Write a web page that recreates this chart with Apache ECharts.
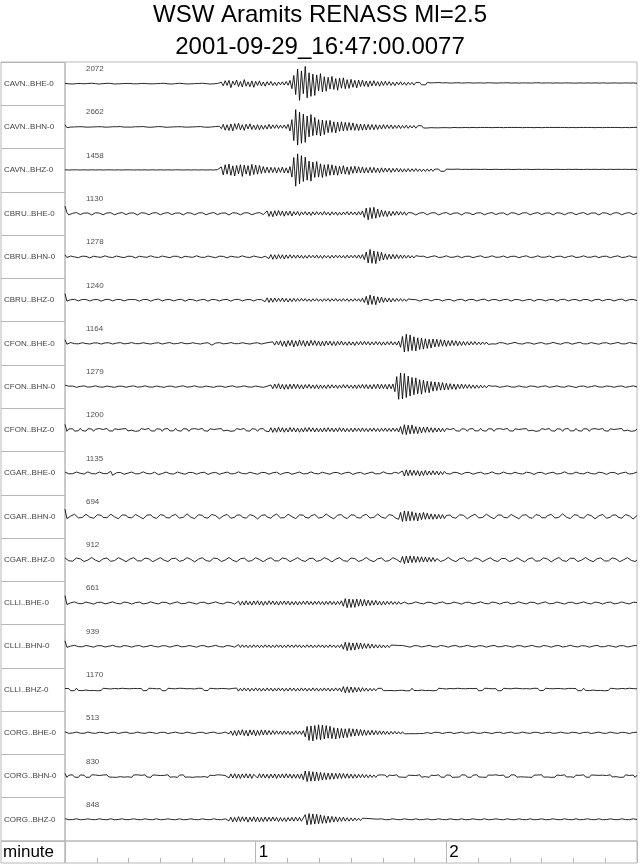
<!DOCTYPE html>
<html>
<head>
<meta charset="utf-8">
<script src="https://cdn.jsdelivr.net/npm/echarts@6/dist/echarts.min.js"></script>
<style>
html,body{margin:0;padding:0;background:#fff;}
#chart{width:640px;height:866px;}
</style>
</head>
<body>
<div id="chart"></div>
<script>
const TITLE = 'WSW Aramits RENASS Ml=2.5';
const SUBTITLE = '2001-09-29_16:47:00.0077';
const AXIS_NAME = 'minute';
const channels = ['CAVN..BHE-0','CAVN..BHN-0','CAVN..BHZ-0','CBRU..BHE-0','CBRU..BHN-0','CBRU..BHZ-0',
  'CFON..BHE-0','CFON..BHN-0','CFON..BHZ-0','CGAR..BHE-0','CGAR..BHN-0','CGAR..BHZ-0',
  'CLLI..BHE-0','CLLI..BHN-0','CLLI..BHZ-0','CORG..BHE-0','CORG..BHN-0','CORG..BHZ-0'];
const peakCounts = [2072,2662,1458,1130,1278,1240,1164,1279,1200,1135,694,912,661,939,1170,513,830,848];
const timeTicks = [1, 2];
const DT = 0.01; // minutes between samples
const T_MAX = 3;

const cavnBHE = [
2,0,-1,1,-2,1,0,-1,1,2,-1,0,1,-1,2,-1,0,1,-2,1,
0,-1,2,-1,1,0,-2,1,-1,2,0,-1,1,-2,1,0,-1,2,-1,0,
1,-2,1,0,-1,2,-1,1,0,-2,1,-1,2,0,-1,1,-2,1,0,-1,
2,-1,0,1,-2,1,-1,2,0,-1,1,-1,2,-1,0,1,-2,1,-1,0,
1,-3,8,-12,16,-10,18,-22,14,-8,20,-16,12,-18,22,-14,10,-17,15,-20,
13,-10,15,-12,9,-14,11,-8,12,-10,7,-11,9,-6,10,-8,12,-9,18,-28,
45,-60,80,-92,70,-55,95,-78,60,-70,52,-65,48,-40,55,-45,38,-42,35,-30,
40,-32,28,-36,30,-25,32,-28,22,-26,24,-20,18,-23,20,-16,19,-15,14,-17,
15,-13,16,-12,11,-14,12,-10,13,-9,11,-10,8,-11,9,-7,10,-8,7,-9,
8,-6,7,-8,6,-5,7,-6,5,-7,6,-5,4,-6,5,-4,6,-5,4,-5,
5,-4,3,-5,4,-3,5,-4,3,-4,4,-3,5,-4,3,-5,4,-3,4,-4,
3,-4,5,-3,4,-4,3,-5,4,-3,4,-3,5,-4,3,-4,4,-3,3,-4,
4,-3,4,-5,3,-4,4,-3,5,-4,3,-4,4,-3,4,-4,3,-3,4,-3,
3,-4,4,-3,4,-3,3,-4,3,-3,4,-3,3,-4,4,-3,3,-4,4,-3,
3,-3,4,-3,3,-4,3,-3,4,-3,3,-4,3,-3,4,-3,3,-3,4,-3,
2];
const cavnBHN = [
12,-4,1,-1,2,0,-1,1,-2,1,0,-1,2,-1,1,0,-2,1,-1,1,
0,-1,2,-1,0,1,-2,1,-1,2,0,-1,1,-1,2,-1,0,1,-2,1,
-1,2,0,-1,1,-2,1,0,-1,2,-1,1,0,-2,1,-1,2,0,-1,1,
-2,1,0,-1,2,-1,1,0,-2,1,-1,2,0,-1,1,-2,1,0,-1,2,
-1,4,-10,14,-18,12,-20,16,-22,18,-13,20,-16,12,-19,15,-11,17,-14,10,
-15,12,-16,10,-13,9,-12,14,-10,11,-8,12,-9,10,-7,11,-9,14,-22,40,
-75,95,-100,82,-90,70,-85,60,-55,68,-48,52,-45,40,-50,38,-42,35,-32,36,
-30,28,-33,26,-24,28,-22,25,-20,24,-18,22,-19,17,-20,16,-18,15,-17,14,
-15,13,-16,12,-14,11,-12,13,-10,12,-9,11,-10,9,-8,10,-9,8,-7,9,
-8,7,-6,8,-7,6,-5,7,-6,5,-6,5,-4,6,-5,4,-5,4,-4,5,
-4,3,-5,4,-3,4,-4,3,-4,5,-3,4,-4,3,-3,4,-4,3,-3,4,
-3,4,-3,3,-4,3,-3,4,-3,3,-4,3,-3,4,-3,3,-3,4,-3,3,
-4,3,-3,4,-3,3,-4,3,-3,3,-4,3,-3,4,-3,3,-3,4,-3,3,
-3,4,-3,3,-4,3,-3,3,-4,3,-3,4,-3,3,-3,4,-3,3,-4,3,
-3,3,-4,3,-3,4,-3,3,-3,4,-3,3,-4,3,-3,3,-4,3,-3,3,
-2];
const cavnBHZ = [
2,-2,1,-2,2,-1,2,-2,1,-1,2,-2,1,-2,2,-1,1,-2,2,-1,
1,-2,2,-1,2,-2,1,-1,2,-2,1,-2,2,-1,2,-1,1,-2,2,-2,
1,-1,2,-2,1,-2,2,-1,1,-2,2,-2,1,-1,2,-2,1,-2,2,-1,
2,-2,1,-1,2,-2,1,-2,2,-1,1,-2,2,-2,1,-1,2,-2,1,-2,
3,-6,18,-26,30,-22,34,-28,24,-32,26,-20,30,-34,28,-22,25,-30,32,-24,
28,-22,26,-18,20,-15,17,-14,16,-13,15,-16,14,-12,17,-15,13,-16,20,-38,
70,-88,90,-75,80,-62,72,-55,50,-60,45,-40,48,-38,35,-40,30,-34,32,-28,
30,-26,24,-28,22,-20,25,-22,18,-24,20,-17,22,-16,19,-15,18,-16,14,-15,
16,-14,15,-13,12,-14,13,-11,12,-10,11,-12,10,-9,11,-10,9,-10,8,-9,
9,-8,8,-7,9,-7,7,-8,6,-7,7,-6,7,-6,6,-5,6,-6,5,-6,
6,-5,5,-6,5,-4,6,-5,4,-5,5,-5,4,-5,5,-4,5,-5,4,-5,
5,-4,4,-5,4,-4,5,-4,4,-5,4,-4,5,-4,4,-5,4,-4,5,-4,
4,-4,5,-4,4,-5,4,-4,5,-4,4,-4,5,-4,4,-5,4,-4,5,-4,
4,-5,4,-4,5,-4,4,-4,5,-4,4,-5,4,-4,5,-4,4,-4,5,-4,
4,-4,5,-4,4,-4,5,-4,4,-4,5,-4,4,-4,5,-4,4,-4,5,-4,
3];
const cbruBHE = [
40,5,-8,-6,1,6,5,-2,-6,-4,2,7,3,-4,-8,-3,4,6,2,-5,
-7,-3,3,7,4,-3,-7,-5,1,6,5,-2,-6,-4,2,7,3,-4,-8,-3,
4,6,2,-5,-7,-3,3,7,4,-3,-7,-5,1,6,5,-2,-6,-4,2,7,
3,-4,-8,-3,4,6,2,-5,-7,-3,3,7,4,-3,-7,-5,1,6,5,-2,
-6,-4,2,7,3,-4,-8,-3,4,6,2,-5,-7,-3,3,7,4,-3,-7,-5,
1,6,5,-2,-6,-10,14,-16,12,-18,15,-13,16,-11,14,-15,12,-10,13,-14,
10,-8,11,-12,9,-7,10,-9,8,-11,9,-8,10,-7,8,-9,11,-8,7,-10,
9,-7,8,-10,7,-9,8,-6,10,-8,9,-7,8,-9,10,-8,14,-22,30,-35,
32,-28,34,-26,24,-20,18,-16,15,-17,12,-13,11,-10,12,-9,10,-8,9,-10,
5,8,3,-4,-8,-5,2,7,5,-3,-7,-4,3,6,4,-3,-8,-5,1,6,
5,-2,-6,-4,2,7,3,-4,-8,-3,4,6,2,-5,-7,-3,3,7,4,-3,
-7,-5,1,6,5,-2,-6,-4,2,7,3,-4,-8,-3,4,6,2,-5,-7,-3,
3,7,4,-3,-7,-5,1,6,5,-2,-6,-4,2,7,3,-4,-8,-3,4,6,
2,-5,-7,-3,3,7,4,-3,-7,-5,1,6,5,-2,-6,-4,2,7,3,-4,
-8,-3,4,6,2,-5,-7,-3,3,7,4,-3,-7,-5,1,6,5,-2,-6,-4,
2];
const cbruBHN = [
10,-4,1,4,5,-1,-4,-5,-2,3,5,2,-3,-6,-2,3,4,-1,-5,-3,
2,5,3,-2,-5,-4,1,4,5,-1,-4,-5,-2,3,5,2,-3,-6,-2,3,
4,-1,-5,-3,2,5,3,-2,-5,-4,1,4,5,-1,-4,-5,-2,3,5,2,
-3,-6,-2,3,4,-1,-5,-3,2,5,3,-2,-5,-4,1,4,5,-1,-4,-5,
-2,3,5,2,-3,-6,-2,3,4,-1,-5,-3,2,5,3,-2,-5,-4,1,4,
5,-1,-4,-5,-2,3,5,-10,12,-14,11,-13,12,-10,11,-12,10,-9,11,-8,
9,-8,10,-7,8,-9,7,-8,9,-6,8,-7,9,-8,7,-9,8,-6,7,-8,
8,-7,9,-6,8,-7,7,-8,9,-7,8,-6,9,-8,10,-9,12,-16,26,-34,
40,-36,32,-38,28,-22,24,-18,16,-15,14,-12,13,-11,12,-10,10,-9,9,-8,
8,-7,6,-7,6,-5,2,5,3,-2,-5,-4,1,4,5,-1,-4,-5,-2,3,
5,2,-3,-6,-2,3,4,-1,-5,-3,2,5,3,-2,-5,-4,1,4,5,-1,
-4,-5,-2,3,5,2,-3,-6,-2,3,4,-1,-5,-3,2,5,3,-2,-5,-4,
1,4,5,-1,-4,-5,-2,3,5,2,-3,-6,-2,3,4,-1,-5,-3,2,5,
3,-2,-5,-4,1,4,5,-1,-4,-5,-2,3,5,2,-3,-6,-2,3,4,-1,
-5,-3,2,5,3,-2,-5,-4,1,4,5,-1,-4,-5,-2,3,5,2,-3,-6,
-2];
const cbruBHZ = [
35,-6,-4,2,5,4,-2,-5,-3,3,6,3,-3,-5,-2,2,4,3,-3,-6,
-4,2,5,4,-2,-5,-3,3,6,3,-3,-5,-2,2,4,3,6,2,-3,-6,
-3,3,6,3,-2,-6,-4,2,4,5,-1,-5,-4,2,6,3,-2,-5,-3,2,
5,4,-3,-6,-2,3,5,2,-3,-5,-4,1,5,4,-2,-6,-3,3,5,2,
-2,-5,-4,2,6,3,-3,-6,-2,3,5,4,-1,-5,-4,2,5,3,-3,-5,
-2,3,6,2,-3,-9,12,-13,10,-12,11,-9,10,-8,11,-10,9,-11,8,-9,
9,-8,8,-7,9,-6,8,-7,6,-8,7,-6,8,-7,6,-8,7,-6,8,-7,
7,-6,8,-7,6,-7,8,-6,7,-8,6,-7,8,-6,7,-8,10,-14,20,-26,
28,-24,22,-26,18,-15,16,-13,12,-11,10,-11,9,-8,9,-7,8,-7,6,-7,
6,-5,3,6,2,-3,-6,-4,2,5,4,-2,-5,-3,3,6,3,-3,-5,-2,
2,4,3,-3,-6,-4,2,5,4,-2,-5,-3,3,6,3,-3,-5,-2,2,4,
5,-1,-5,-4,2,6,3,-2,-5,-3,2,5,4,-3,-6,-2,3,5,2,-3,
-5,-4,1,5,4,-2,-6,-3,3,5,2,-2,-5,-4,2,6,3,-3,-6,-2,
3,5,4,-1,-5,-4,2,5,3,-3,-5,-2,3,6,3,-3,-6,-4,2,5,
4,-2,-5,-3,3,6,3,-3,-5,-2,2,4,5,-1,-5,-4,2,6,3,-2,
-3];
const cfonBHE = [
20,-5,2,4,3,-2,-4,-3,1,3,4,-1,-3,-4,-1,2,4,2,-2,-4,
-2,2,4,3,-2,-4,-3,1,3,4,-1,-3,-4,-1,2,4,2,-2,-4,-2,
2,3,4,-1,-3,-4,-2,1,4,3,-2,-4,-3,1,3,4,-1,-3,-4,-1,
2,4,2,-2,-4,-2,2,3,4,-1,-3,-4,-2,1,4,3,12,-10,-3,1,
3,4,-1,-3,-4,-1,2,4,2,-2,-4,-2,2,3,4,-1,-3,-4,-2,1,
4,3,-2,-4,-3,1,3,5,-6,8,-10,12,-9,14,-16,12,-18,15,-13,17,
-20,14,-16,18,-12,15,-17,13,-14,16,-11,15,-13,12,-15,11,-14,13,-10,12,
-12,10,-13,11,-9,12,-10,8,-11,9,-10,8,-12,9,-8,10,-9,11,-8,9,
-10,8,-9,10,-8,9,-11,8,-10,9,-8,10,-9,8,-10,12,-22,38,-48,50,
-44,46,-40,36,-42,30,-34,28,-32,25,-28,22,-26,24,-20,22,-18,20,-16,18,
-17,15,-14,16,-12,14,-13,11,-12,10,-11,9,-10,9,-8,9,-8,7,-8,7,
-6,7,-6,5,-3,-5,-4,1,4,5,2,-3,-5,-4,0,3,5,3,-2,-5,
-4,-1,3,5,2,-2,-5,-3,1,4,4,0,-4,-5,-2,2,5,3,-1,-4,
-5,-1,3,5,3,-2,-5,-4,1,4,5,1,-3,-5,-3,2,4,4,-1,-4,
-5,-2,2,5,3,-2,-4,-4,0,4,5,2,-3,-5,-3,1,4,4,0,-4,
-3];
const cfonBHN = [
8,-3,2,4,3,-2,-4,-3,1,3,4,-1,-3,-4,-1,2,4,2,-2,-4,
-3,1,3,4,-1,-3,-4,-1,2,4,2,-2,-4,-3,1,3,4,-1,-3,-4,
-1,2,4,2,-2,-4,-3,1,3,4,-1,-3,-4,-1,2,4,2,-2,-4,-3,
1,3,4,-1,-3,-4,-1,2,4,2,-2,-4,-3,1,3,4,-1,-3,-4,-1,
2,4,2,-2,-4,-3,1,3,4,-1,-3,-4,-1,2,4,2,-2,-4,-3,1,
3,4,-1,-3,-4,-1,2,-6,9,-12,14,-10,16,-13,12,-15,11,-14,13,-12,
14,-11,13,-12,10,-13,11,-9,12,-10,9,-11,10,-12,9,-10,8,-11,10,-9,
10,-8,9,-10,8,-9,11,-8,10,-9,8,-10,9,-11,10,-9,12,-10,11,-12,
10,-13,12,-11,14,-12,13,-11,12,-14,13,-12,14,-28,55,-70,75,-68,72,-60,
58,-52,50,-45,48,-40,38,-42,35,-32,30,-34,28,-25,26,-22,24,-20,22,-19,
18,-17,16,-15,14,-16,13,-12,14,-11,12,-10,11,-10,9,-10,8,-9,8,-7,
6,-7,6,-5,2,4,3,-2,-4,-4,0,3,4,2,-2,-5,-3,1,4,4,
-1,-4,-4,0,3,5,2,-2,-4,-3,1,4,4,-1,-4,-5,-1,3,4,3,
-2,-4,-3,1,4,4,0,-3,-5,-2,2,4,3,-1,-4,-4,0,3,5,2,
-2,-5,-3,1,3,4,1,-3,-4,-2,2,4,3,-1,-4,-4,0,3,4,2,
-2];
const cfonBHZ = [
30,-8,5,-3,6,-7,2,-5,8,-4,3,-7,6,-2,5,-8,4,-6,7,-3,
2,-6,8,-5,3,-7,6,-4,2,-8,5,-3,7,-6,4,-2,6,-8,3,-5,
7,-4,2,-6,8,-5,3,-7,6,-2,4,-8,5,-3,7,-6,2,-5,8,-4,
3,-7,6,-2,5,-8,4,-6,7,-3,2,-6,8,-5,3,-7,6,-4,2,-8,
5,-3,7,-6,4,-2,6,-8,3,-5,7,-4,2,-6,8,-5,3,-7,6,-2,
4,-8,5,-3,7,-6,4,-10,12,-14,10,-13,14,-11,12,-13,9,-12,13,-10,
11,-12,10,-13,9,-11,12,-10,13,-9,11,-12,10,-11,9,-12,11,-10,12,-9,
10,-11,9,-10,12,-9,10,-11,8,-10,9,-11,10,-8,9,-10,11,-9,8,-10,
9,-8,10,-9,8,-10,9,-8,10,-9,8,-9,10,-8,9,-12,18,-24,28,-26,
25,-22,27,-20,18,-21,16,-17,15,-14,16,-13,12,-14,11,-12,10,-11,9,-10,
7,-4,2,-6,8,-5,3,-7,6,-2,4,-8,5,-3,7,-6,2,-5,8,-4,
3,-7,6,-2,5,-8,4,-6,7,-3,2,-6,8,-5,3,-7,6,-4,2,-8,
5,-3,7,-6,4,-2,6,-8,3,-5,7,-4,2,-6,8,-5,3,-7,6,-2,
4,-8,5,-3,7,-6,2,-5,8,-4,3,-7,6,-2,5,-8,4,-6,7,-3,
2,-6,8,-5,3,-7,6,-4,2,-8,5,-3,7,-6,4,-2,6,-8,3,-5,
4];
const cgarBHE = [
6,3,-4,-7,-3,2,6,5,-1,-6,-5,1,7,4,-3,-8,-4,2,6,3,
-2,-6,-3,3,10,-12,-4,2,5,4,-2,-6,-5,0,5,6,2,-4,-7,-3,
3,7,4,-2,-6,-4,1,5,12,-8,-6,-2,3,6,4,-3,-7,-5,1,6,
5,-1,-5,-6,-2,4,7,3,-3,-6,-4,2,6,5,-2,-7,-4,1,5,4,
-2,-6,-5,0,5,6,2,-4,-7,-3,3,7,4,-2,-6,-4,1,5,5,-1,
-5,-6,-2,4,7,3,-3,-6,-4,2,6,5,-2,-7,-4,1,5,4,-2,-6,
-5,0,5,6,2,-4,-7,-3,3,7,4,-2,-6,-4,1,5,5,-1,-5,-6,
-2,4,7,3,-3,-6,-4,2,6,5,-2,-7,-4,1,5,4,-2,-6,-5,0,
5,6,2,-4,-7,-3,3,7,4,-2,-6,-4,1,5,5,-1,-9,12,-16,18,
-14,17,-13,15,-12,14,-16,12,-13,15,-11,12,-10,13,-9,11,-10,9,-8,10,
-2,-6,-5,0,5,6,2,-4,-7,-3,3,7,4,-2,-6,-4,1,5,5,-1,
-5,-6,-2,4,7,3,-3,-6,-4,2,6,5,-2,-7,-4,1,5,4,-2,-6,
-5,0,5,6,2,-4,-7,-3,3,7,4,-2,-6,-4,1,5,5,-1,-5,-6,
-2,4,7,3,-3,-6,-4,2,6,5,-2,-7,-4,1,5,4,-2,-6,-5,0,
5,6,2,-4,-7,-3,3,7,4,-2,-6,-4,1,5,5,-1,-5,-6,-2,4,
6];
const cgarBHN = [
40,-12,-9,2,11,12,3,-8,-14,-6,5,12,8,-4,-12,-10,-1,9,13,6,
-6,-12,-7,4,12,10,-2,-11,-13,-3,8,14,7,-5,-12,-8,3,11,10,-1,
-10,-13,-4,7,13,9,-3,-12,-11,0,10,13,5,-7,-14,-8,4,12,11,1,
-9,-12,-5,6,14,8,-4,-11,-12,-2,9,12,6,-6,-13,-9,2,11,13,4,
-7,-13,-8,3,12,11,0,-10,-13,-5,7,13,8,-4,-12,-10,1,10,12,3,
-8,-14,-6,5,12,9,-3,-12,-10,2,11,13,4,-8,-13,-7,4,12,10,-1,
-11,-12,-3,8,13,7,-5,-13,-9,3,12,11,1,-9,-14,-5,6,13,9,-2,
-10,-13,-4,7,12,10,-2,-11,-12,-1,9,13,6,-6,-12,-9,3,11,12,2,
-9,-13,-5,6,13,8,-4,-12,-10,1,10,12,5,-7,-13,-16,22,-28,30,-26,
28,-24,26,-22,20,-25,19,-18,22,-16,18,-15,14,-16,12,-14,11,-13,10,-12,
5,12,8,-4,-12,-10,-1,9,13,6,-5,-13,-9,2,11,12,3,-8,-14,-6,
4,12,10,-2,-11,-13,-3,8,14,7,-5,-12,-8,3,11,10,-1,-10,-13,-4,
7,13,9,-3,-12,-11,0,10,13,5,-7,-14,-8,4,12,11,1,-9,-12,-5,
6,14,8,-4,-11,-12,-2,9,12,6,-6,-13,-9,2,11,13,4,-7,-13,-8,
3,12,11,0,-10,-13,-5,7,13,8,-4,-12,-10,1,10,12,3,-8,-14,-6,
5];
const cgarBHZ = [
10,4,-6,-11,-8,1,9,11,5,-4,-10,-9,-2,7,12,6,-3,-10,-11,-4,
5,11,9,-1,-9,-12,-5,4,11,10,1,-8,-11,-6,3,10,11,4,-6,-12,
-7,2,9,12,5,-5,-11,-9,0,8,11,7,-3,-10,-10,-2,6,12,8,-2,
-9,-11,-4,5,11,10,2,-7,-12,-7,3,10,11,4,-5,-11,-9,0,9,11,
6,-4,-10,-10,-2,7,12,6,-3,-10,-11,-4,5,11,9,-1,-9,-12,-5,4,
11,10,1,-8,-11,-6,3,10,11,4,-6,-12,-7,2,9,12,5,-5,-11,-9,
0,8,11,7,-3,-10,-10,-2,6,12,8,-2,-9,-11,-4,5,11,10,2,-7,
-12,-7,3,10,11,4,-5,-11,-9,0,9,11,6,-4,-10,-10,-2,7,12,6,
-3,-10,-11,-4,5,11,9,-1,-9,-12,-5,4,11,10,1,-8,-14,18,-22,20,
-18,21,-16,19,-15,17,-14,16,-13,14,-12,13,-11,12,-10,6,-3,-10,-10,-2,
6,12,8,-2,-9,-11,-4,5,11,10,2,-7,-12,-7,3,10,11,4,-5,-11,
-9,0,9,11,6,-4,-10,-10,-2,7,12,6,-3,-10,-11,-4,5,11,9,-1,
-9,-12,-5,4,11,10,1,-8,-11,-6,3,10,11,4,-6,-12,-7,2,9,12,
5,-5,-11,-9,0,8,11,7,-3,-10,-10,-2,6,12,8,-2,-9,-11,-4,5,
11,10,2,-7,-12,-7,3,10,11,4,-5,-11,-9,0,9,11,6,-4,-10,-10,
-2];
const clliBHE = [
40,-8,-5,1,5,6,2,-3,-6,-4,1,5,5,0,-5,-6,-2,3,6,4,
-1,-5,-5,0,4,6,3,-2,-6,-5,1,5,6,2,-4,-6,-3,2,5,5,
0,-5,-6,-2,3,6,4,-1,-5,-5,0,4,6,3,-2,-6,-5,1,5,6,
2,-4,-6,-3,2,5,5,0,-5,-6,-2,3,6,4,-1,-5,-5,0,4,6,
3,-2,-6,-5,1,5,6,2,-4,-6,-8,10,-12,9,-11,12,-10,8,-12,11,
-9,12,-11,10,-13,9,-10,12,-8,11,-10,9,-12,10,-8,11,-9,10,-11,8,
-10,9,-11,8,-9,10,-8,11,-9,8,-10,9,-8,10,-9,8,-10,9,-8,10,
-9,8,-10,9,-8,12,-18,24,-26,22,-25,20,-24,22,-18,20,-17,19,-15,16,
-14,13,-12,14,-11,10,-12,9,-10,9,-8,9,-8,7,-8,7,-6,5,5,0,
-5,-6,-2,3,6,4,-1,-5,-5,0,4,6,3,-2,-6,-5,1,5,6,2,
-4,-6,-3,2,5,5,0,-5,-6,-2,3,6,4,-1,-5,-5,0,4,6,3,
-2,-6,-5,1,5,6,2,-4,-6,-3,2,5,5,0,-5,-6,-2,3,6,4,
-1,-5,-5,0,4,6,3,-2,-6,-5,1,5,6,2,-4,-6,-3,2,5,5,
0,-5,-6,-2,3,6,4,-1,-5,-5,0,4,6,3,-2,-6,-5,1,5,6,
2,-4,-6,-3,2,5,5,0,-5,-6,-2,3,6,4,-1,-5,-5,0,4,6,
3];
const clliBHN = [
30,-6,-4,1,4,5,2,-2,-5,-3,1,4,4,0,-4,-5,-1,3,5,3,
-1,-4,-4,0,3,5,2,-2,-5,-4,1,4,5,1,-3,-5,-2,2,4,4,
0,-4,-5,-1,3,5,3,-1,-4,-4,0,3,5,2,-2,-5,-4,1,4,5,
1,-3,-5,-2,2,4,4,0,-4,-5,-1,3,5,3,-1,-4,-4,0,3,5,
2,-2,-5,-4,1,4,5,1,-3,-5,-12,9,-7,8,-6,7,-8,6,-7,8,
-6,7,-8,6,-7,8,-6,7,-8,6,-7,8,-6,7,-8,6,-7,8,-6,7,
-7,8,-6,7,-8,6,-7,8,-6,7,-8,6,-7,8,-6,7,-8,6,-7,8,
-6,7,-8,6,-7,10,-16,22,-24,20,-22,18,-21,19,-16,18,-14,15,-12,14,
-11,12,-10,9,-10,8,-9,7,-8,6,-7,6,-5,6,-5,4,-5,4,4,0,
-4,-5,-1,3,5,3,-1,-4,-4,0,3,5,2,-2,-5,-4,1,4,5,1,
-3,-5,-2,2,4,4,0,-4,-5,-1,3,5,3,-1,-4,-4,0,3,5,2,
-2,-5,-4,1,4,5,1,-3,-5,-2,2,4,4,0,-4,-5,-1,3,5,3,
-1,-4,-4,0,3,5,2,-2,-5,-4,1,4,5,1,-3,-5,-2,2,4,4,
0,-4,-5,-1,3,5,3,-1,-4,-4,0,3,5,2,-2,-5,-4,1,4,5,
1,-3,-5,-2,2,4,4,0,-4,-5,-1,3,5,3,-1,-4,-4,0,3,5,
2];
const clliBHZ = [
6,-4,5,-7,3,-6,7,-5,4,-6,5,-3,7,-6,4,-5,6,-7,3,-5,
7,-4,5,-6,3,-7,6,-5,4,-6,7,-3,5,-6,4,-7,6,-4,5,-3,
6,-7,4,-5,7,-3,6,-5,4,-6,5,-7,3,-6,7,-4,5,-6,4,-5,
7,-3,6,-5,4,-7,5,-6,3,-5,7,-4,6,-6,4,-5,7,-3,5,-6,
4,-7,6,-4,5,-6,3,-7,6,-5,8,-9,7,-8,9,-7,8,-9,7,-8,
9,-7,8,-9,7,-8,9,-7,8,-9,7,-8,9,-7,8,-9,7,-8,9,-7,
8,-9,7,-8,9,-7,8,-9,7,-8,9,-7,8,-9,7,-8,9,-7,8,-9,
7,-8,9,-7,8,-12,16,-18,15,-17,14,-16,12,-13,11,-12,10,-9,8,-9,
7,-8,6,-7,6,-5,7,-6,5,-6,4,-5,6,-7,3,-5,6,-4,5,-7,
3,-6,7,-5,4,-6,5,-3,7,-6,4,-5,6,-7,3,-5,7,-4,5,-6,
3,-7,6,-5,4,-6,7,-3,5,-6,4,-7,6,-4,5,-3,6,-7,4,-5,
7,-3,6,-5,4,-6,5,-7,3,-6,7,-4,5,-6,4,-5,7,-3,6,-5,
4,-7,5,-6,3,-5,7,-4,6,-6,4,-5,7,-3,5,-6,4,-7,6,-4,
5,-6,3,-7,6,-5,6,-4,5,-7,3,-6,7,-5,4,-6,5,-3,7,-6,
4,-5,6,-7,3,-5,7,-4,5,-6,3,-7,6,-5,4,-6,7,-3,5,-6,
4];
const corgBHE = [
5,2,-3,-4,-1,3,4,2,-2,-4,-3,1,4,3,-1,-4,-3,0,3,4,
1,-3,-4,-1,2,4,3,-2,-4,-3,1,3,4,0,-3,-4,-2,2,4,3,
-1,-4,-3,1,3,4,1,-3,-4,-2,2,4,3,-1,-4,-3,0,3,4,2,
-2,-4,-3,1,4,3,-1,-3,-4,-1,2,4,3,-1,-4,-3,1,3,4,1,
-3,-4,-2,2,4,3,-6,10,-14,12,-16,14,-12,17,-15,13,-18,16,-12,15,
-17,13,-14,16,-12,15,-11,13,-10,12,-9,11,-8,10,-9,11,-8,9,-10,8,
-9,11,-8,10,-9,12,-22,35,-42,38,-45,40,-36,44,-38,42,-34,40,-30,36,
-32,28,-34,26,-30,24,-28,22,-26,24,-20,22,-18,20,-16,18,-15,16,-14,13,
-12,14,-11,12,-10,11,-9,10,-9,8,-9,8,-7,8,-7,6,-7,6,-6,5,
-5,6,-5,4,-5,5,-4,5,-4,4,2,-3,-4,-1,3,4,2,-2,-4,-3,
1,4,3,-1,-4,-3,0,3,4,1,-3,-4,-1,2,4,3,-2,-4,-3,1,
3,4,0,-3,-4,-2,2,4,3,-1,-4,-3,1,3,4,1,-3,-4,-2,2,
4,3,-1,-4,-3,0,3,4,2,-2,-4,-3,1,4,3,-1,-3,-4,-1,2,
4,3,-1,-4,-3,1,3,4,1,-3,-4,-2,2,4,3,-1,-4,-3,0,3,
4,2,-2,-4,-3,1,4,3,-1,-4,-3,0,3,4,1,-3,-4,-1,2,4,
3];
const corgBHN = [
15,-7,5,-3,7,-6,4,-7,6,-3,5,-7,3,-6,7,-4,6,-5,3,-7,
6,-4,7,-5,3,-6,5,-7,4,-3,7,-6,5,-4,3,-7,6,-5,7,-3,
4,-6,7,-5,3,-7,6,-4,5,-6,3,-7,4,-5,7,-6,3,-4,6,-7,
5,-3,7,-6,4,-5,6,-7,3,-4,7,-5,6,-3,4,-7,5,-6,3,-5,
7,-4,6,-5,3,-7,-10,12,-11,13,-12,11,-13,12,-10,13,-11,12,-13,10,
12,-11,13,-10,12,-11,10,-12,11,-10,12,-13,11,-10,12,-11,13,-10,11,-12,
10,-12,11,-13,12,-20,28,-30,26,-28,24,-27,22,-25,20,-22,18,-20,17,-18,
16,-17,15,-14,16,-13,14,-12,13,-12,11,-12,10,-11,10,-9,10,-9,8,-9,
7,-8,6,-7,5,-6,7,-3,5,-7,6,-4,3,-6,7,-5,4,-6,3,-7,
5,-6,4,-7,3,-5,7,-6,4,-3,6,-7,5,-4,3,-6,7,-5,4,-7,
6,-3,5,-7,4,-6,3,-5,7,-4,6,-6,3,-7,5,-4,7,-5,3,-6,
4,-7,6,-3,5,-6,7,-4,3,-5,6,-7,4,-5,7,-3,6,-6,5,-4,
7,-5,3,-6,4,-7,5,-4,6,-3,7,-6,5,-5,3,-7,4,-6,6,-4,
3,-6,7,-5,4,-4,6,-7,5,-3,4,-6,7,-5,3,-7,6,-4,5,-6,
4,-7,5,-6,3,-4,7,-5,6,-3,5,-7,4,-6,7,-4,3,-5,6,-7,
5];
const corgBHZ = [
4,1,-2,-3,-1,2,3,1,-2,-3,-1,2,3,2,-1,-3,-2,1,3,2,
-1,-3,-2,1,3,2,-2,-3,-1,2,3,1,-2,-3,-1,1,3,2,-1,-3,
-2,1,3,2,-1,-3,-2,1,3,1,-2,-3,-1,2,3,2,-1,-3,-2,1,
3,1,-2,-3,-1,2,3,1,-1,-3,-2,1,3,2,-1,-3,-2,0,3,2,
-1,-3,-2,1,3,2,-8,12,-14,11,-13,15,-12,14,-10,13,-15,12,-11,14,
-13,12,-14,10,-12,13,-11,12,-10,13,-9,11,-12,10,-11,9,-12,10,-9,11,
-10,12,-9,11,-10,-18,26,-30,32,-28,30,-26,28,-24,25,-22,20,-21,18,-17,
16,-15,14,-13,12,-11,12,-10,9,-10,8,-9,8,-7,6,-7,6,-5,5,-4,
4,-3,2,-3,1,2,3,1,-2,-3,-1,2,3,2,-1,-3,-2,1,3,2,
-1,-3,-2,1,3,2,-2,-3,-1,2,3,1,-2,-3,-1,1,3,2,-1,-3,
-2,1,3,2,-1,-3,-2,1,3,1,-2,-3,-1,2,3,2,-1,-3,-2,1,
3,1,-2,-3,-1,2,3,1,-1,-3,-2,1,3,2,-1,-3,-2,0,3,2,
-1,-3,-2,1,3,2,-2,-3,-1,2,3,1,-2,-3,-1,1,3,2,-1,-3,
-2,1,3,2,-1,-3,-2,1,3,1,-2,-3,-1,2,3,2,-1,-3,-2,1,
3,1,-2,-3,-1,2,3,1,-1,-3,-2,1,3,2,-1,-3,-2,0,3,2,
-1];

const traces = [cavnBHE,cavnBHN,cavnBHZ,cbruBHE,cbruBHN,cbruBHZ,cfonBHE,cfonBHN,cfonBHZ,
  cgarBHE,cgarBHN,cgarBHZ,clliBHE,clliBHN,clliBHZ,corgBHE,corgBHN,corgBHZ];

const FONT = 'Liberation Sans, Arial, Helvetica, sans-serif';
const GRID_COLOR = '#b8b8b8';
const TOP = 62, BAND_H = 779, AXIS_H = 22, LABEL_W = 64, LEFT = 1, RIGHT = 3;
const AMP = 0.42 / 100; // band fraction per amplitude unit

const series = traces.map((tr, k) => ({
  type: 'line', xAxisIndex: 1, yAxisIndex: 1,
  data: tr.map((v, i) => [i * DT, k + 0.5 - v * AMP]),
  showSymbol: false, symbol: 'none', silent: true, animation: false,
  lineStyle: { color: '#000', width: 0.85 }
}));
series.push({
  type: 'scatter', xAxisIndex: 1, yAxisIndex: 1, symbolSize: 0, silent: true, animation: false,
  data: peakCounts.map((c, k) => [0.11, k + 0.16, c]),
  label: { show: true, position: 'right', distance: 0, formatter: p => String(p.value[2]),
    fontSize: 8, color: '#222', fontFamily: FONT }
});

const chart = echarts.init(document.getElementById('chart'), null, { renderer: 'canvas' });
chart.setOption({
  animation: false,
  backgroundColor: '#fff',
  title: [
    { text: TITLE, left: 'center', top: -2, textStyle: { fontSize: 24, fontWeight: 'normal', color: '#000', fontFamily: FONT } },
    { text: SUBTITLE, left: 'center', top: 30, textStyle: { fontSize: 24, fontWeight: 'normal', color: '#000', fontFamily: FONT } }
  ],
  grid: [
    { left: LEFT, top: TOP, width: LABEL_W, height: BAND_H, show: true, borderColor: GRID_COLOR, borderWidth: 1 },
    { left: LEFT + LABEL_W, top: TOP, right: RIGHT, height: BAND_H, show: true, borderColor: GRID_COLOR, borderWidth: 1 },
    { left: LEFT, top: TOP + BAND_H, width: LABEL_W, height: AXIS_H, show: true, borderColor: GRID_COLOR, borderWidth: 1 },
    { left: LEFT + LABEL_W, top: TOP + BAND_H, right: RIGHT, height: AXIS_H, show: true, borderColor: GRID_COLOR, borderWidth: 1 }
  ],
  xAxis: [
    { gridIndex: 0, type: 'value', min: 0, max: 1, show: false },
    { gridIndex: 1, type: 'value', min: 0, max: T_MAX, show: false },
    { gridIndex: 2, type: 'value', min: 0, max: 1, show: false },
    { gridIndex: 3, type: 'value', min: 0, max: T_MAX, interval: 1, position: 'bottom',
      axisLine: { show: false },
      axisTick: { show: true, inside: true, length: 5, lineStyle: { color: GRID_COLOR } },
      minorTick: { show: true, splitNumber: 6, length: 5, lineStyle: { color: GRID_COLOR } },
      splitLine: { show: true, lineStyle: { color: GRID_COLOR, width: 1 } },
      axisLabel: { inside: true, margin: 11, align: 'left', verticalAlign: 'middle', padding: [0, 0, 0, 3],
        fontSize: 17, color: '#000', fontFamily: FONT, showMinLabel: false, showMaxLabel: false,
        formatter: v => timeTicks.indexOf(v) >= 0 ? String(v) : '' } }
  ],
  yAxis: [
    { gridIndex: 0, type: 'category', data: channels, inverse: true,
      axisLine: { show: false }, axisTick: { show: false },
      splitLine: { show: true, interval: 0, lineStyle: { color: GRID_COLOR } },
      axisLabel: { inside: true, margin: 3, interval: 0, fontSize: 8, color: '#444', fontFamily: FONT } },
    { gridIndex: 1, type: 'value', min: 0, max: channels.length, inverse: true, show: false },
    { gridIndex: 2, type: 'category', data: [AXIS_NAME],
      axisLine: { show: false }, axisTick: { show: false }, splitLine: { show: false },
      axisLabel: { inside: true, margin: 2, fontSize: 17, color: '#000', fontFamily: FONT } },
    { gridIndex: 3, type: 'value', min: 0, max: 1, show: false }
  ],
  series: series
});
</script>
</body>
</html>
